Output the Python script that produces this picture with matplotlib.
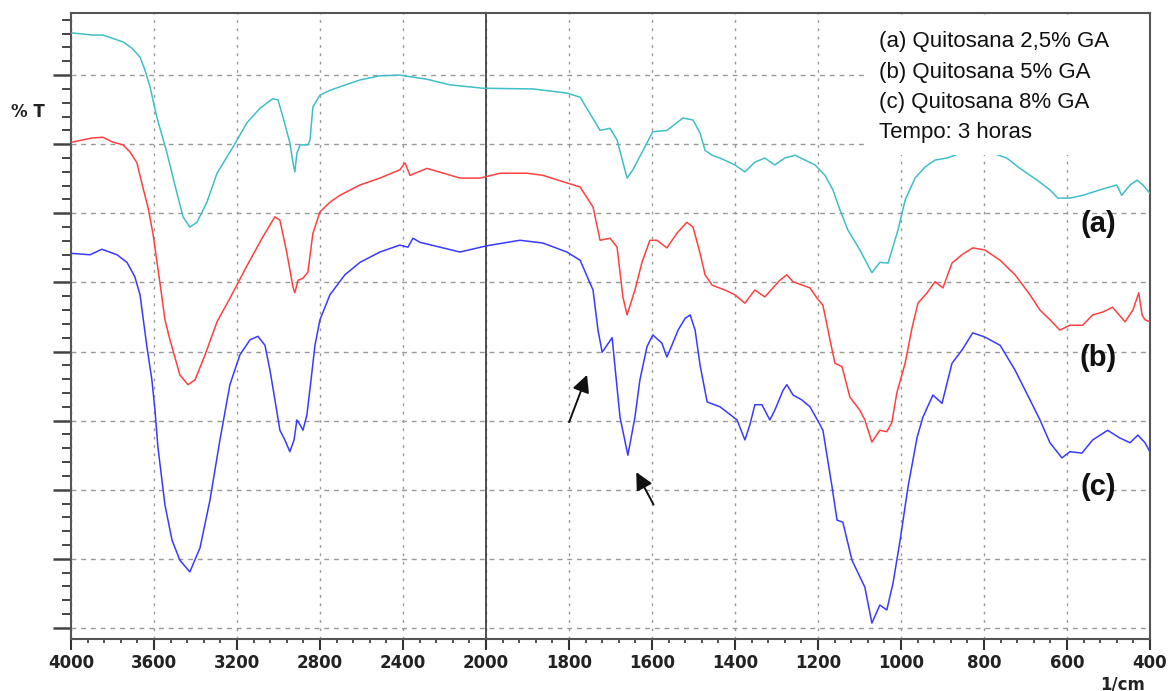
import matplotlib.pyplot as plt
import numpy as np
from matplotlib.ticker import FixedLocator, MultipleLocator, NullFormatter

# FTIR spectra: wavenumber (1/cm) and %T (arbitrary offset)
wn_a = [3995, 3894, 3846, 3749, 3706, 3667, 3643, 3619, 3586, 3537, 3489, 3460,
        3427, 3393, 3345, 3296, 3219, 3152, 3089, 3027, 3002, 2978, 2945, 2930,
        2921, 2911, 2896, 2858, 2848, 2834, 2800, 2752, 2704, 2607, 2511, 2415,
        2284, 2174, 2015, 1887, 1805, 1773, 1725, 1701, 1684, 1660, 1646, 1598,
        1564, 1525, 1501, 1484, 1472, 1455, 1436, 1400, 1376, 1352, 1328, 1304,
        1280, 1255, 1231, 1207, 1183, 1164, 1147, 1128, 1099, 1070, 1051, 1031,
        1007, 990, 966, 942, 918, 889, 846, 798, 745, 713, 672, 641, 622, 593,
        562, 520, 480, 468, 448, 431, 417, 400]
t_a = [86.1, 85.8, 85.8, 84.8, 83.9, 82.6, 80.7, 78.3, 73.9, 68.7, 62.9, 59.5,
       58.0, 58.7, 61.6, 65.8, 69.6, 73.1, 75.2, 76.6, 76.4, 73.9, 70.2, 67.3,
       66.0, 68.7, 69.9, 69.9, 70.6, 75.4, 77.1, 77.8, 78.3, 79.3, 79.9, 80.0,
       79.4, 78.6, 78.1, 78.0, 77.4, 76.8, 72.0, 72.3, 70.6, 65.1, 66.3, 71.8,
       72.0, 73.8, 73.5, 71.6, 69.1, 68.4, 68.0, 67.0, 66.0, 67.4, 68.0, 67.0,
       68.0, 68.4, 67.7, 67.0, 65.5, 63.4, 60.5, 57.6, 54.7, 51.4, 52.9, 52.8,
       57.6, 61.9, 65.1, 66.7, 67.7, 68.0, 68.9, 69.1, 68.0, 66.5, 64.8, 63.4,
       62.2, 62.2, 62.6, 63.4, 64.1, 62.6, 64.1, 64.8, 64.1, 62.9]

wn_b = [3995, 3899, 3846, 3798, 3749, 3716, 3682, 3653, 3629, 3605, 3571, 3547,
        3523, 3475, 3436, 3402, 3354, 3296, 3234, 3152, 3075, 3017, 2993, 2959,
        2930, 2921, 2906, 2882, 2858, 2834, 2800, 2752, 2704, 2607, 2511, 2415,
        2390, 2366, 2284, 2125, 2029, 1966, 1901, 1863, 1805, 1773, 1742, 1725,
        1701, 1684, 1670, 1660, 1641, 1624, 1605, 1588, 1564, 1540, 1516, 1501,
        1484, 1472, 1455, 1424, 1400, 1376, 1352, 1328, 1292, 1275, 1260, 1219,
        1202, 1188, 1171, 1159, 1142, 1123, 1099, 1087, 1070, 1051, 1034, 1022,
        1010, 990, 973, 959, 937, 918, 899, 877, 853, 827, 798, 761, 725, 689,
        665, 641, 617, 593, 562, 538, 514, 490, 460, 441, 427, 419, 412, 400]
t_b = [70.3, 70.9, 71.0, 70.3, 69.9, 68.9, 67.3, 63.7, 60.9, 57.1, 49.9, 44.6,
       41.7, 36.6, 35.2, 35.9, 39.5, 44.3, 47.7, 52.4, 56.6, 59.5, 59.0, 54.2,
       49.3, 48.5, 50.3, 50.6, 51.5, 57.1, 60.2, 61.6, 62.6, 64.1, 65.1, 66.3,
       67.3, 65.5, 66.5, 65.1, 65.1, 65.8, 65.8, 65.5, 64.4, 63.8, 60.9, 56.1,
       56.4, 55.1, 47.9, 45.3, 48.9, 52.9, 56.1, 56.1, 55.0, 57.1, 58.7, 58.0,
       54.2, 51.1, 49.6, 48.9, 48.2, 47.0, 48.9, 47.9, 50.3, 51.1, 50.1, 49.2,
       47.7, 46.7, 41.7, 38.3, 37.8, 33.4, 31.5, 30.1, 26.9, 28.6, 28.4, 29.7,
       34.0, 38.3, 43.5, 47.0, 48.5, 50.1, 49.2, 52.8, 54.0, 55.0, 54.7, 53.2,
       51.1, 48.2, 46.0, 44.6, 43.1, 43.8, 43.8, 45.3, 45.7, 46.4, 44.3, 46.0,
       48.5, 45.3, 44.6, 44.3]

wn_c = [3995, 3908, 3851, 3778, 3730, 3692, 3667, 3653, 3634, 3610, 3595, 3581,
        3547, 3513, 3475, 3427, 3378, 3330, 3282, 3234, 3186, 3137, 3099, 3065,
        3041, 3017, 2993, 2969, 2945, 2925, 2911, 2896, 2882, 2863, 2843, 2824,
        2800, 2752, 2680, 2607, 2511, 2415, 2376, 2352, 2318, 2125, 1998, 1918,
        1863, 1805, 1773, 1742, 1730, 1720, 1713, 1696, 1677, 1658, 1641, 1629,
        1612, 1598, 1576, 1564, 1552, 1537, 1520, 1508, 1496, 1484, 1467, 1436,
        1395, 1376, 1364, 1352, 1335, 1316, 1304, 1284, 1275, 1260, 1239, 1219,
        1195, 1188, 1166, 1154, 1140, 1118, 1099, 1087, 1070, 1051, 1034, 1019,
        1002, 983, 961, 947, 923, 901, 877, 853, 827, 798, 761, 725, 689, 665,
        641, 612, 593, 564, 538, 502, 473, 448, 429, 412, 400]
t_c = [54.2, 54.0, 54.8, 54.0, 52.9, 50.8, 48.2, 45.0, 40.7, 35.9, 31.5, 26.2,
       17.8, 12.7, 9.8, 8.1, 11.6, 18.5, 27.2, 35.2, 39.5, 41.7, 42.2, 40.9,
       37.3, 33.0, 28.6, 27.2, 25.5, 27.2, 30.1, 29.4, 28.6, 30.8, 35.9, 40.9,
       44.6, 48.2, 51.1, 52.9, 54.4, 55.4, 55.1, 56.4, 55.8, 54.4, 55.3, 56.1,
       55.7, 54.4, 53.2, 48.9, 43.1, 39.9, 40.5, 42.0, 30.5, 25.0, 30.5, 35.9,
       40.7, 42.4, 41.2, 39.2, 40.9, 43.1, 44.8, 45.3, 43.1, 38.0, 32.7, 32.0,
       30.1, 27.2, 29.4, 32.3, 32.3, 30.1, 31.5, 34.4, 35.2, 33.7, 33.0, 32.0,
       29.4, 28.6, 20.4, 15.6, 15.3, 9.8, 7.4, 5.9, 0.7, 3.3, 2.6, 6.5,
       12.7, 20.4, 27.6, 30.5, 33.7, 32.5, 38.3, 40.2, 42.7, 42.1, 40.9, 37.3,
       33.0, 30.1, 26.8, 24.6, 25.5, 25.3, 27.2, 28.6, 27.5, 26.8, 27.9, 26.8,
       25.5]

xticks = [4000, 3600, 3200, 2800, 2400, 2000, 1800, 1600, 1400, 1200, 1000, 800, 600, 400]
legend_lines = ['(a) Quitosana 2,5% GA', '(b) Quitosana 5% GA',
                '(c) Quitosana 8% GA', 'Tempo: 3 horas']


# the instrument halves the scale above 2000 1/cm
def fwd(w):
    w = np.asarray(w, dtype=float)
    return np.where(w > 2000, 2000 + (w - 2000) / 2, w)


def inv(v):
    v = np.asarray(v, dtype=float)
    return np.where(v > 2000, 2000 + (v - 2000) * 2, v)


fig = plt.figure(figsize=(11.69, 6.91), dpi=100)
ax = fig.add_axes([0.0607, 0.0753, 0.9230, 0.9060])
ax.set_xscale('function', functions=(fwd, inv))
ax.set_xlim(4000, 400)
ax.set_ylim(-1.6, 89)

ax.plot(wn_a, t_a, color='#40bec8', lw=1.1, zorder=3)
ax.plot(wn_b, t_b, color='#ff4040', lw=1.1, zorder=3)
ax.plot(wn_c, t_c, color='#3a3aff', lw=1.1, zorder=3)

# ticks
minor_x = list(np.arange(4000, 2000, -80)) + list(np.arange(2000, 399, -40))
ax.xaxis.set_major_locator(FixedLocator(xticks))
ax.xaxis.set_minor_locator(FixedLocator(minor_x))
ax.set_xticklabels([str(t) for t in xticks])
ax.xaxis.set_minor_formatter(NullFormatter())
ax.yaxis.set_major_locator(MultipleLocator(10))
ax.yaxis.set_minor_locator(MultipleLocator(2))
ax.yaxis.set_major_formatter(NullFormatter())
ax.set_yticks(np.arange(0, 81, 10))

ax.tick_params(axis='x', which='major', length=8, width=1.5, color='#333', pad=3,
               labelsize=12, labelcolor='#222')
ax.tick_params(axis='x', which='minor', length=3, width=1.2, color='#333')
ax.tick_params(axis='y', which='major', length=13, width=1.8, color='#444', labelleft=False)
ax.tick_params(axis='y', which='minor', length=6.5, width=1.4, color='#444')
for lab in ax.get_xticklabels():
    lab.set_fontweight('bold')

for s in ax.spines.values():
    s.set_color('#555')
    s.set_linewidth(1.5)

# grid: dashed horizontals, dotted verticals
ax.yaxis.grid(True, color='#999', lw=1.0, linestyle=(0, (3.5, 3.5)))
ax.xaxis.grid(True, color='#999', lw=1.0, linestyle=(0, (2, 4)))
ax.set_axisbelow(True)
ax.axvline(2000, color='#333', lw=1.2, zorder=2)

# white box with the legend text
ax.add_patch(plt.Rectangle((0.739, 0.773), 0.257, 0.219, transform=ax.transAxes,
                           facecolor='white', edgecolor='none', zorder=4))
for i, line in enumerate(legend_lines):
    ax.text(0.749, 0.954 - 0.0485 * i, line, transform=ax.transAxes, fontsize=16,
            family='Liberation Sans', color='#111', va='center', ha='left', zorder=5)

for lab, yy in zip(['(a)', '(b)', '(c)'], [0.663, 0.449, 0.243]):
    ax.text(0.952, yy, lab, transform=ax.transAxes, fontsize=21, fontweight='bold',
            family='Liberation Sans', color='#111', ha='center', va='center', zorder=5)

# arrows pointing at the 1720 and 1655 bands
ax.annotate('', xy=(1754, 37.0), xytext=(1802, 29.4),
            arrowprops=dict(arrowstyle='-|>', color='#111', lw=1.4, mutation_scale=26))
ax.annotate('', xy=(1641, 22.9), xytext=(1593, 17.5),
            arrowprops=dict(arrowstyle='-|>', color='#111', lw=1.4, mutation_scale=26))

fig.text(0.024, 0.838, '% T', fontsize=12, fontweight='bold', color='#222',
         ha='center', va='center')
fig.text(0.960, 0.010, '1/cm', fontsize=12, fontweight='bold', color='#222',
         ha='center', va='center')

fig.savefig('out.png', dpi=100)
